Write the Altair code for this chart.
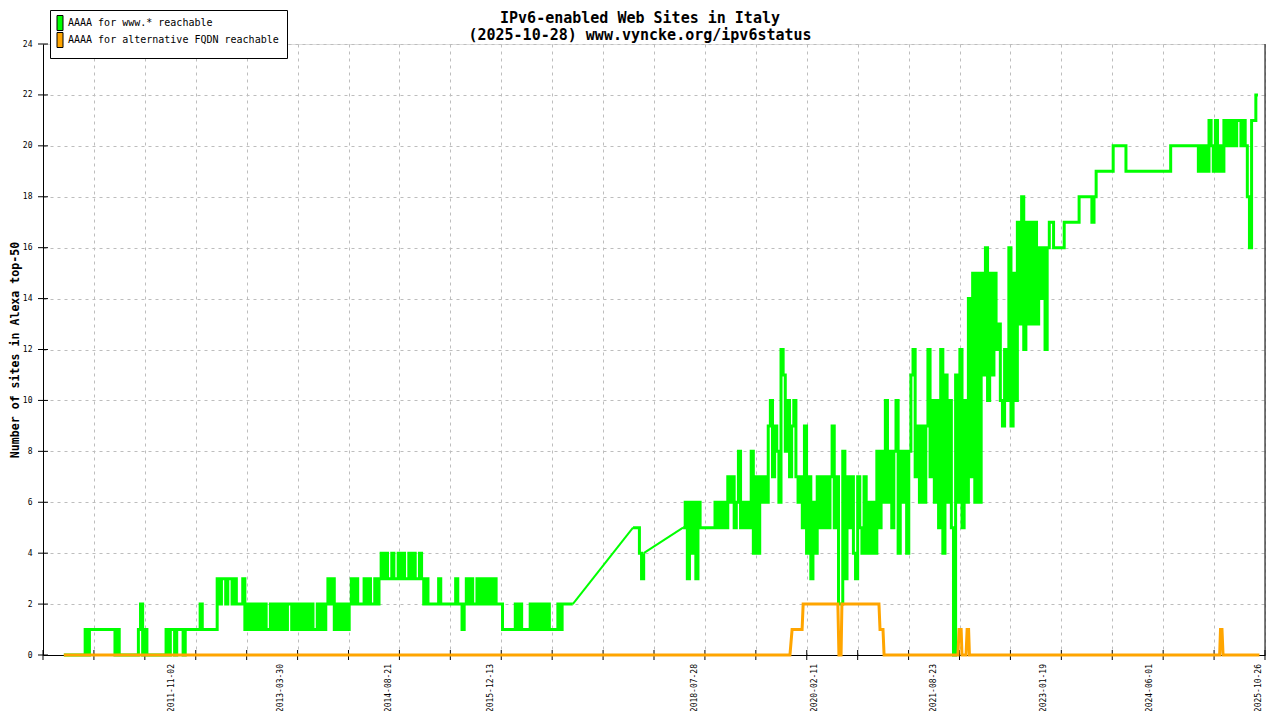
import altair as alt
import pandas as pd
import numpy as np

# ---------------- data ----------------
# Green series "AAAA for www.* reachable": segments sampled every 10 days
step_days = 10
g1_start = "2010-06-14"
g1_vals = ("0 0 0 0 0 0 0 0 0 0 "
           "1 0 1 1 1 1 1 1 1 1 1 1 1 1 0 1 0 "
           "0 0 0 0 0 0 0 0 "
           "1 2 0 1 0 "
           "0 0 0 0 0 0 0 0 "
           "1 0 1 1 0 1 1 1 0 1 "
           "1 1 1 1 1 1 "
           "2 1 "
           "1 1 1 1 1 1 "
           "3 2 3 3 2 3 3 2 3 2 2 2 3 "
           "1 2 1 2 1 2 1 2 1 2 1 1 2 1 2 1 2 1 2 1 2 2 1 2 1 2 1 2 1 2 1 2 1 1 2 1 2 1 2 "
           "3 2 3 1 "
           "2 1 2 1 2 1 "
           "2 3 2 3 2 2 2 3 2 3 2 2 3 2 3 4 3 4 "
           "3 3 4 3 3 4 3 4 3 3 4 3 4 3 3 4 3 "
           "2 3 2 2 2 2 2 3 2 2 2 2 2 2 2 3 2 2 1 2 3 2 3 2 2 3 2 3 2 3 2 3 2 3 2 2 2 "
           "1 1 1 1 1 1 2 1 2 1 1 1 1 2 1 2 1 2 1 2 1 2 1 1 1 1 2 1 2 2 2 2 2 2")
g2_start = "2017-10-08"
g2_vals = "5 5 5 4 3 4"
g3_start = "2018-05-31"
g3_vals = ("5 6 3 6 4 6 3 6 "
           "5 5 5 5 5 5 5 "
           "6 5 6 5 6 5 7 6 7 5 6 8 5 6 5 6 5 8 "
           "4 7 4 7 6 7 6 "
           "9 10 7 9 8 6 "
           "12 11 "
           "8 10 7 9 10 7 "
           "6 7 5 9 4 7 3 6 "
           "4 7 5 7 5 7 5 7 9 5 7 "
           "2 2 8 "
           "3 7 5 7 4 3 7 5 4 7 4 6 4 6 4 8 5 "
           "8 6 10 6 8 5 8 10 4 8 6 8 4 8 "
           "11 12 7 9 6 9 6 9 12 "
           "7 10 6 10 5 12 4 11 6 10 5 0 11 6 12 5 10 6 "
           "14 7 15 6 15 "
           "6 15 11 16 10 15 11 15 12 13 10 "
           "9 12 10 16 9 15 10 17 "
           "13 18 12 17 13 17 13 17 13 16 14 16 12 16 "
           "17 17 "
           "16 16 16 16 16 "
           "17 17 17 17 17 17 17 "
           "18 18 18 18 18 18 "
           "17 18 "
           "19 19 19 19 19 19 19 19 "
           "20 20 20 20 20 20 "
           "19 19 19 19 19 19 19 19 19 19 19 19 19 19 19 19 19 19 19 19 19 "
           "20 20 20 20 20 20 20 20 20 20 20 20 20 "
           "19 20 19 20 19 "
           "21 20 19 21 19 20 19 21 20 21 20 21 20 21 "
           "21 20 21 20 18 16 21 21 "
           "22 22")
green_segments = [(g1_start, g1_vals), (g2_start, g2_vals), (g3_start, g3_vals)]

# Orange series "AAAA for alternative FQDN reachable"
orange_dates = ["2010-06-14", "2019-10-15", "2019-10-25", "2019-12-11", "2019-12-16",
                "2020-05-27", "2020-06-01", "2020-06-11", "2020-06-15", "2020-12-06",
                "2020-12-11", "2020-12-25", "2020-12-30", "2021-12-12", "2021-12-17",
                "2021-12-27", "2021-12-31", "2022-01-19", "2022-01-24", "2022-01-31",
                "2022-02-04", "2025-04-24", "2025-04-28", "2025-05-05", "2025-05-10",
                "2025-10-28"]
orange_vals = [0, 0, 1, 1, 2, 2, 0, 0, 2, 2, 1, 1, 0, 0, 1, 1, 0, 0, 1, 1, 0, 0, 1, 1, 0, 0]

label_dates = ["2011-11-02", "2013-03-30", "2014-08-21", "2015-12-13", "2018-07-28",
               "2020-02-11", "2021-08-23", "2023-01-19", "2024-06-01", "2025-10-26"]
y_ticks = list(range(0, 25, 2))
x_start, x_end = "2010-03-08", "2025-11-23"
n_x_ticks = 25
series_names = ["AAAA for www.* reachable", "AAAA for alternative FQDN reachable"]
series_colors = ["#00ff00", "#ffa500"]
title_lines = ["IPv6-enabled Web Sites in Italy", "(2025-10-28) www.vyncke.org/ipv6status"]
y_title = "Number of sites in Alexa top-50"

# ---------------- build tables ----------------
def ms(d):
    return int(pd.Timestamp(d).value // 10**6)

rows = []
seg_ranges = []
for k, (start, vals) in enumerate(green_segments):
    t0 = pd.Timestamp(start)
    seg_rows = [(ms(t0 + pd.Timedelta(days=step_days * i)), int(s), k)
                for i, s in enumerate(vals.split())]
    seg_ranges.append((seg_rows[0], seg_rows[-1]))
    rows += seg_rows
green_df = pd.DataFrame(rows, columns=["t", "v", "seg"])

# straight connectors across the measurement gaps (segment end -> next segment start)
conn_rows = []
for k in range(len(seg_ranges) - 1):
    a = seg_ranges[k][1]
    b = seg_ranges[k + 1][0]
    conn_rows += [(a[0], a[1], k), (b[0], b[1], k)]
conn_df = pd.DataFrame(conn_rows, columns=["t", "v", "seg"])

orange_df = pd.DataFrame({"t": [ms(d) for d in orange_dates], "v": orange_vals})

x0, x1 = ms(x_start), ms(x_end)
grid_vals = [float(v) for v in np.linspace(x0, x1, n_x_ticks)]

yt_df = pd.DataFrame({"t": [x0] * len(y_ticks), "v": y_ticks})
xt_df = pd.DataFrame({"t": grid_vals, "v": [0] * len(grid_vals)})
r_df = pd.DataFrame({"t": [x1], "v": [0], "v2": [24]})
lab_df = pd.DataFrame({"t": [ms(d) for d in label_dates], "label": label_dates})
leg_df = pd.DataFrame({"t": [ms("2009-01-01")] * 2, "v": [0, 0], "s": series_names})

# ---------------- chart ----------------
FONT = "DejaVu Sans Mono"
GRID = dict(grid=True, gridColor="#bdbdbd", gridDash=[3, 4], gridWidth=1, gridOpacity=1)
SWATCH = "M-3,-3.75H0V3.75H-3Z"

xs = alt.Scale(domain=[x0, x1], nice=False)
ys = alt.Scale(domain=[0, 24], nice=False)
xa = alt.Axis(values=grid_vals, labels=False, ticks=False, domain=True, domainColor="black",
              domainWidth=1, title=None, **GRID)
ya = alt.Axis(values=y_ticks, ticks=False, labelPadding=11, labelFont=FONT, labelFontSize=8,
              labelColor="black", domain=True, domainColor="black", domainWidth=1,
              title=y_title, titleFont=FONT, titleFontSize=11.6, titleFontWeight="bold",
              titleColor="black", titleAngle=270, titleX=-28, titleY=305.5,
              titleAlign="center", titleBaseline="middle", **GRID)
X = alt.X("t:T", scale=xs, axis=xa)
Y = alt.Y("v:Q", scale=ys, axis=ya)

ticks_y = alt.Chart(yt_df).mark_tick(orient="horizontal", size=10, thickness=1,
                                     color="black", opacity=1).encode(x=X, y=Y)
ticks_x = alt.Chart(xt_df).mark_tick(orient="vertical", size=10, thickness=1,
                                     color="black", opacity=1).encode(x=X, y=Y)
right = alt.Chart(r_df).mark_rule(color="black", strokeWidth=1).encode(x=X, y=Y, y2=alt.Y2("v2:Q"))
green = alt.Chart(green_df).mark_line(color=series_colors[0], strokeWidth=3,
                                      interpolate="step-after").encode(
    x=X, y=Y, detail="seg:N")
green_conn = alt.Chart(conn_df).mark_line(color=series_colors[0], strokeWidth=2).encode(
    x=X, y=Y, detail="seg:N")
orange = alt.Chart(orange_df).mark_line(color=series_colors[1], strokeWidth=3).encode(x=X, y=Y)
labels = alt.Chart(lab_df).mark_text(angle=270, align="right", baseline="middle", font=FONT,
                                     fontSize=8, color="black").encode(
    x=X, y=alt.value(620), text="label:N")
legend_layer = alt.Chart(leg_df).mark_point(filled=True, shape=SWATCH, size=16, clip=True,
                                            opacity=1).encode(
    x=X, y=Y,
    color=alt.Color("s:N", scale=alt.Scale(domain=series_names, range=series_colors),
                    legend=alt.Legend(title=None, orient="none", legendX=7, legendY=-34,
                                      direction="vertical", fillColor="white",
                                      strokeColor="black", padding=8, symbolType=SWATCH,
                                      symbolSize=16, symbolStrokeColor="black",
                                      symbolStrokeWidth=1, symbolOpacity=1,
                                      labelFont=FONT, labelFontSize=10, labelColor="black",
                                      labelLimit=400, labelOffset=0, rowPadding=-3)))

chart = alt.layer(ticks_y, ticks_x, right, green_conn, green, orange, labels,
                  legend_layer).properties(
    width=1222, height=611,
    title=alt.TitleParams(text=title_lines, font=FONT, fontSize=15, fontWeight="bold",
                          color="black", anchor="middle", dx=-14, dy=37, offset=4,
                          lineHeight=17),
    autosize=alt.AutoSizeParams(type="none"),
    padding={"left": 35, "top": 36, "right": 7, "bottom": 56},
).configure_view(stroke=None).configure(background="white")

chart.save("out.html", embed_options={"renderer": "svg", "actions": False})
